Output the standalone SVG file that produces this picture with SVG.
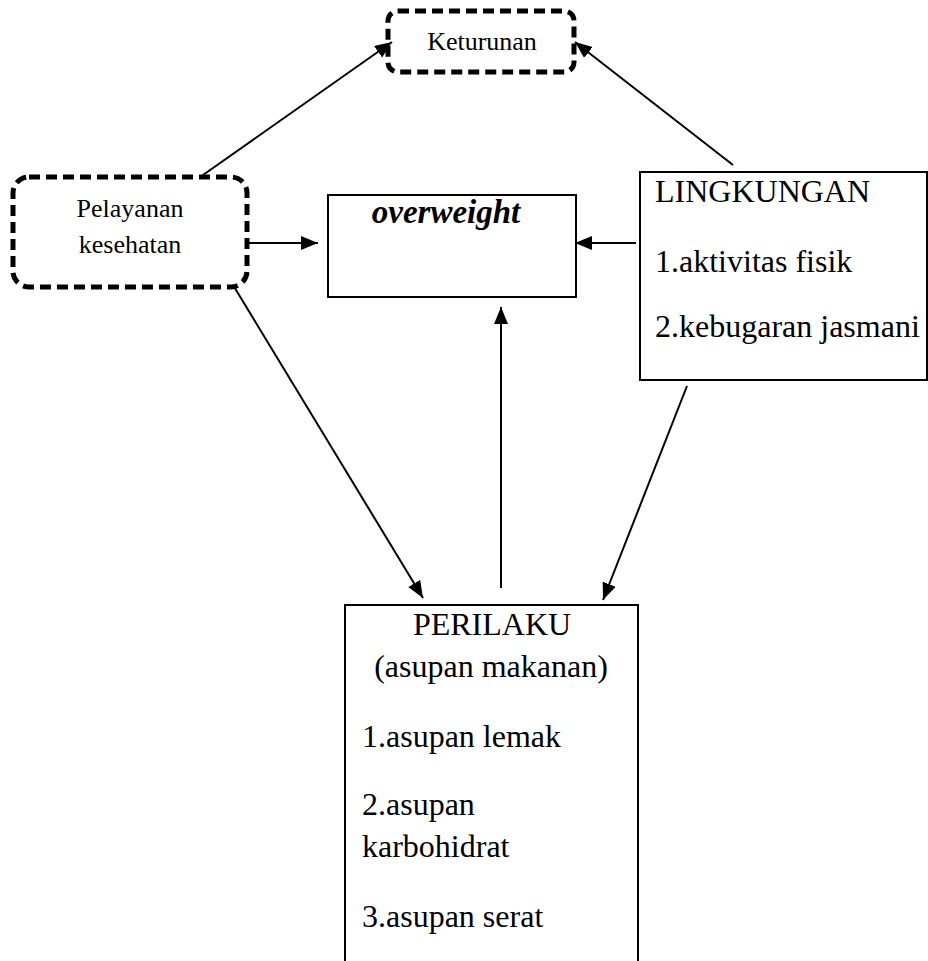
<svg xmlns="http://www.w3.org/2000/svg" width="928" height="961" viewBox="0 0 928 961">
<style>
.t{font-family:"Liberation Serif","Times New Roman",serif;fill:#000}
.dash{fill:#fff;stroke:#000;stroke-width:5;stroke-dasharray:11 6}
.box{fill:#fff;stroke:#000;stroke-width:2}
.c{stroke:#000;stroke-width:2;fill:none;marker-end:url(#ah)}
</style>
<defs>
<marker id="ah" markerUnits="userSpaceOnUse" markerWidth="18" markerHeight="15" refX="17" refY="7" orient="auto">
<path d="M0,0 L17,7 L0,14 z" fill="#000"/>
</marker>
</defs>
<rect width="928" height="961" fill="#fff"/>
<g id="keturunan">
<rect class="dash" x="388" y="11" width="186" height="61" rx="10"/>
<text class="t" x="482" y="50" font-size="26" text-anchor="middle">Keturunan</text>
</g>
<g id="pelayanan">
<rect class="dash" x="13" y="177" width="234" height="110" rx="16"/>
<text class="t" x="130" y="217" font-size="26" text-anchor="middle">Pelayanan</text>
<text class="t" x="130" y="253" font-size="26" text-anchor="middle">kesehatan</text>
</g>
<g id="overweight">
<rect class="box" x="328" y="195" width="248" height="102"/>
<text class="t" x="446" y="223" font-size="33" font-weight="bold" font-style="italic" text-anchor="middle">overweight</text>
</g>
<g id="lingkungan">
<rect class="box" x="640" y="172" width="287" height="208"/>
<text class="t" x="655" y="202" font-size="32">LINGKUNGAN</text>
<text class="t" x="655" y="272" font-size="32">1.aktivitas fisik</text>
<text class="t" x="655" y="337" font-size="32">2.kebugaran jasmani</text>
</g>
<g id="perilaku">
<path class="box" d="M345,965 V605 H638 V965"/>
<text class="t" x="492" y="635" font-size="32" text-anchor="middle">PERILAKU</text>
<text class="t" x="491" y="677" font-size="32" text-anchor="middle">(asupan makanan)</text>
<text class="t" x="362" y="747" font-size="32">1.asupan lemak</text>
<text class="t" x="362" y="815" font-size="32">2.asupan</text>
<text class="t" x="362" y="857" font-size="32">karbohidrat</text>
<text class="t" x="362" y="927" font-size="32">3.asupan serat</text>
</g>
<g id="connectors">
<line class="c" x1="203" y1="175" x2="392" y2="42"/>
<line class="c" x1="733" y1="165" x2="575" y2="42"/>
<line class="c" x1="247" y1="243" x2="318" y2="243"/>
<line class="c" x1="636" y1="243" x2="575" y2="243"/>
<line class="c" x1="233" y1="285" x2="423" y2="598"/>
<line class="c" x1="501" y1="588" x2="501" y2="307"/>
<line class="c" x1="687" y1="386" x2="603" y2="600"/>
</g>
</svg>
